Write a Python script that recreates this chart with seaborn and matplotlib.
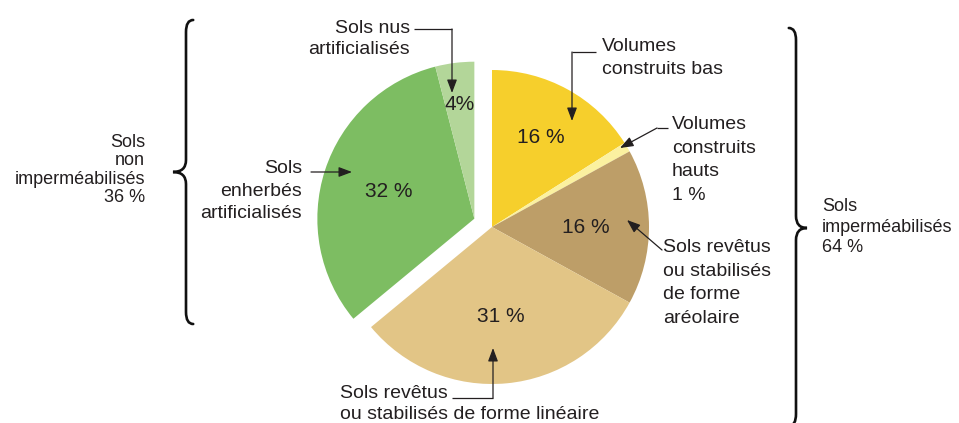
import matplotlib
matplotlib.use("Agg")
import matplotlib.pyplot as plt
from matplotlib.path import Path
from matplotlib.patches import PathPatch
import numpy as np
import seaborn as sns

# Data: shares of artificialised soils (%)
categories = [
    "Volumes construits bas",
    "Volumes construits hauts",
    "Sols revêtus ou stabilisés de forme aréolaire",
    "Sols revêtus ou stabilisés de forme linéaire",
    "Sols enherbés artificialisés",
    "Sols nus artificialisés",
]
shares = [16, 1, 16, 31, 32, 4]
permeable = [False, False, False, False, True, True]
group_labels = ["Sols\nnon\nimperméabilisés\n36 %", "Sols\nimperméabilisés\n64 %"]

colors = ["#f6cf2c", "#fbf1a0", "#bd9e68", "#e2c586", "#7dbd62", "#b3d699"]
pct_radius = [0.65, None, 0.6, 0.57, 0.57, 0.73]

W, H = 959, 423
CX, CY, R = 492, 227, 157
EXPLODE = 19.5
TXT = "#231f20"

sns.set_style("white")
plt.rcParams["font.family"] = ["Liberation Sans", "DejaVu Sans"]

fig = plt.figure(figsize=(W / 100, H / 100), dpi=100)
ax = fig.add_axes([0, 0, 1, 1])


def P(x, y):
    # pixel coords (top-left origin) -> data coords
    return (x, H - y)


wedges, _ = ax.pie(shares, colors=colors, startangle=90, counterclock=False,
                   radius=R, center=P(CX, CY),
                   wedgeprops=dict(linewidth=0))

# pull the non-impermeable group out as one block
green = [w for w, p in zip(wedges, permeable) if p]
a1 = min(w.theta1 for w in green)
a2 = max(w.theta2 for w in green)
mid = np.deg2rad((a1 + a2) / 2)
dx, dy = EXPLODE * np.cos(mid), EXPLODE * np.sin(mid)
for w in green:
    w.set_center((CX + dx, H - CY + dy))

# percentage labels inside the slices
for w, v, r in zip(wedges, shares, pct_radius):
    if r is None:
        continue
    ang = np.deg2rad((w.theta1 + w.theta2) / 2)
    cx, cy = w.center
    sep = "" if v < 10 else " "
    ax.text(cx + r * R * np.cos(ang), cy + r * R * np.sin(ang), f"{v}{sep}%",
            ha="center", va="center", fontsize=15, color=TXT)

ax.set_xlim(0, W)
ax.set_ylim(0, H)
ax.set_aspect("equal")
ax.axis("off")


def label(x, y, s, ha="left", ls=1.5, fs=14):
    ax.text(*P(x, y), s, ha=ha, va="center", fontsize=fs, color=TXT,
            linespacing=ls)


def arrow(pts):
    pts = [P(*p) for p in pts]
    if len(pts) > 2:
        xs, ys = zip(*pts[:-1])
        ax.plot(xs, ys, color=TXT, lw=0.9, solid_capstyle="butt")
    ax.annotate("", xy=pts[-1], xytext=pts[-2],
                arrowprops=dict(arrowstyle="-|>,head_length=0.8,head_width=0.3",
                                color=TXT, lw=0.9, shrinkA=0, shrinkB=0))


# slice annotations
label(410, 39, "Sols nus\nartificialisés", ha="right", ls=1.32)
arrow([(414, 29), (452, 29), (452, 93)])

label(602, 58, "Volumes\nconstruits bas", ls=1.45)
arrow([(596, 52), (572, 52), (572, 121)])

label(672, 160, "Volumes\nconstruits\nhauts\n1 %")
arrow([(668, 128), (657, 128), (620, 148)])

label(663, 283, "Sols revêtus\nou stabilisés\nde forme\naréolaire")
arrow([(662, 250), (627, 220)])

label(302, 191, "Sols\nenherbés\nartificialisés", ha="right", ls=1.44)
arrow([(311, 172), (352, 172)])

label(340, 404, "Sols revêtus\nou stabilisés de forme linéaire", ls=1.38)
arrow([(452, 398), (493, 398), (493, 348)])

# group labels
label(145, 170, group_labels[0], ha="right", ls=1.1, fs=13)
label(822, 227, group_labels[1], ls=1.26, fs=13)


def brace(x, y0, y1, ym, d, c=12):
    # d > 0: tip points right, d < 0: tip points left
    s = np.sign(d)
    verts = [(x - s * c * 0.6, y0), (x, y0), (x, y0 + c),
             (x, ym - c), (x, ym), (x + d, ym),
             (x, ym), (x, ym + c),
             (x, y1 - c), (x, y1), (x - s * c * 0.6, y1)]
    codes = [Path.MOVETO, Path.CURVE3, Path.CURVE3,
             Path.LINETO, Path.CURVE3, Path.CURVE3,
             Path.CURVE3, Path.CURVE3,
             Path.LINETO, Path.CURVE3, Path.CURVE3]
    path = Path([P(*v) for v in verts], codes)
    ax.add_patch(PathPatch(path, fill=False, lw=1.9, color="#111111",
                           capstyle="round"))


brace(186, 20, 324, 172, -13)
brace(796, 28, 426, 228, 11)

fig.savefig("out.png", dpi=100)
